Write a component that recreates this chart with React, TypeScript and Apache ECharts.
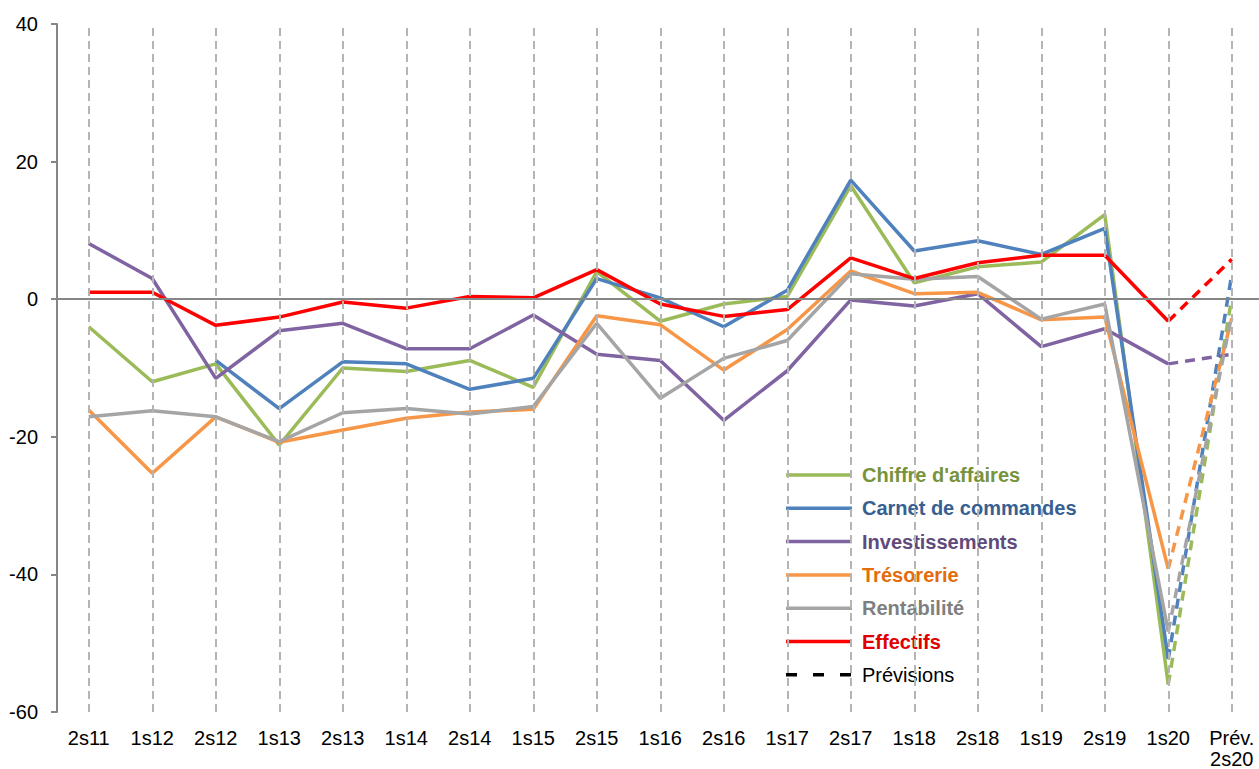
import React, { useEffect, useRef } from "react";
import * as echarts from "echarts";

const categories = [
  "2s11", "1s12", "2s12", "1s13", "2s13", "1s14", "2s14", "1s15", "2s15", "1s16",
  "2s16", "1s17", "2s17", "1s18", "2s18", "1s19", "2s19", "1s20", "Prév.\n2s20",
];

const chiffre = [-4.0, -12.0, -9.4, -21.2, -10.0, -10.5, -8.9, -12.8, 4.0, -3.2, -0.7, 0.4, 16.5, 2.4, 4.7, 5.4, 12.3, -56.0];
const carnet = [null, null, -8.9, -15.9, -9.1, -9.4, -13.1, -11.5, 3.0, 0.2, -4.0, 1.3, 17.3, 7.0, 8.5, 6.5, 10.3, -52.3];
const investissements = [8.1, 3.0, -11.5, -4.6, -3.5, -7.2, -7.2, -2.3, -8.0, -8.9, -17.6, -10.4, -0.1, -1.0, 0.8, -6.9, -4.3, -9.4];
const tresorerie = [-16.1, -25.3, -17.1, -20.8, -19.0, -17.3, -16.4, -16.0, -2.4, -3.7, -10.3, -4.4, 4.1, 0.8, 1.0, -3.0, -2.6, -39.2];
const rentabilite = [-17.1, -16.2, -17.1, -20.7, -16.5, -15.9, -16.7, -15.6, -3.5, -14.4, -8.6, -6.0, 3.7, 2.9, 3.3, -2.9, -0.7, -48.3];
const effectifs = [1.0, 1.0, -3.8, -2.6, -0.4, -1.3, 0.4, 0.2, 4.3, -0.7, -2.5, -1.5, 6.0, 3.0, 5.3, 6.4, 6.4, -3.2];

// forecasts for "Prév. 2s20"
const previsions = {
  chiffre: 0.2,
  carnet: 3.6,
  investissements: -8.0,
  tresorerie: -2.8,
  rentabilite: -2.3,
  effectifs: 5.8,
};

const yTicks = { min: -60, max: 40, interval: 20 };

const FONT = "'Liberation Sans', Arial, sans-serif";

export default function App() {
  const ref = useRef<HTMLDivElement>(null);

  useEffect(() => {
    if (!ref.current) return;
    const chart = echarts.init(ref.current, null, { renderer: "svg" });

    const defs = [
      { name: "Chiffre d'affaires", data: chiffre, prev: previsions.chiffre, color: "#9BBB59", text: "#77933C" },
      { name: "Carnet de commandes", data: carnet, prev: previsions.carnet, color: "#4F81BD", text: "#376092" },
      { name: "Investissements", data: investissements, prev: previsions.investissements, color: "#8064A2", text: "#604A7B" },
      { name: "Trésorerie", data: tresorerie, prev: previsions.tresorerie, color: "#F79646", text: "#E46C0A" },
      { name: "Rentabilité", data: rentabilite, prev: previsions.rentabilite, color: "#A5A5A5", text: "#7F7F7F" },
      { name: "Effectifs", data: effectifs, prev: previsions.effectifs, color: "#FF0000", text: "#E00000" },
    ];

    const last = categories.length - 1;
    const LW = 3.5;

    const series: any[] = [];
    series.push({
      name: "_grid",
      type: "line",
      data: [],
      silent: true,
      markLine: {
        silent: true,
        symbol: ["none", "none"],
        label: { show: false },
        emphasis: { disabled: true },
        data: [
          ...categories.map((c) => ({
            xAxis: c,
            lineStyle: { color: "#B4B4B4", type: [8, 5], width: 2 },
          })),
          { yAxis: 0, lineStyle: { color: "#868686", type: "solid", width: 2 } },
        ],
      },
    });

    defs.forEach((d) => {
      const fc: (number | null)[] = categories.map(() => null);
      fc[last - 1] = d.data[d.data.length - 1] as number;
      fc[last] = d.prev;
      series.push({
        name: d.name + " (prév.)",
        type: "line",
        data: fc,
        symbol: "none",
        silent: true,
        lineStyle: { color: d.color, width: LW, type: [10, 7] },
        itemStyle: { color: d.color },
        emphasis: { disabled: true },
        z: 3,
      });
    });

    defs.forEach((d) => {
      series.push({
        name: d.name,
        type: "line",
        data: d.data,
        symbol: "none",
        silent: true,
        connectNulls: false,
        lineStyle: { color: d.color, width: LW },
        itemStyle: { color: d.color },
        emphasis: { disabled: true },
        z: 4,
      });
    });

    const legendX = 786;
    const legendTop = 475;
    const rowH = 33.3;
    const legendEls: any[] = [];
    defs.forEach((d, i) => {
      const y = legendTop + i * rowH;
      legendEls.push({
        type: "line",
        shape: { x1: legendX, y1: y, x2: legendX + 66, y2: y },
        style: { stroke: d.color, lineWidth: 3.5 },
        silent: true,
      });
      legendEls.push({
        type: "text",
        x: legendX + 76,
        y,
        style: {
          text: d.name,
          fill: d.text,
          font: `bold 20px ${FONT}`,
          verticalAlign: "middle",
          align: "left",
        },
        silent: true,
      });
    });
    {
      const y = legendTop + defs.length * rowH;
      legendEls.push({
        type: "line",
        shape: { x1: legendX, y1: y, x2: legendX + 66, y2: y },
        style: { stroke: "#000000", lineWidth: 3.5, lineDash: [11, 16] },
        silent: true,
      });
      legendEls.push({
        type: "text",
        x: legendX + 76,
        y,
        style: {
          text: "Prévisions",
          fill: "#000000",
          font: `20px ${FONT}`,
          verticalAlign: "middle",
          align: "left",
        },
        silent: true,
      });
    }

    chart.setOption({
      animation: false,
      textStyle: { fontFamily: FONT },
      grid: {
        left: 57,
        top: 24,
        width: 1206.5,
        height: 688,
        containLabel: false,
        outerBoundsMode: "none",
      },
      xAxis: {
        type: "category",
        data: categories,
        boundaryGap: true,
        position: "bottom",
        axisLine: { show: false, onZero: false },
        axisTick: { show: false },
        splitLine: { show: false },
        axisLabel: {
          color: "#000000",
          fontSize: 20,
          fontFamily: FONT,
          margin: 15,
          lineHeight: 21,
          interval: 0,
        },
      },
      yAxis: {
        type: "value",
        min: yTicks.min,
        max: yTicks.max,
        interval: yTicks.interval,
        axisLine: { show: true, lineStyle: { color: "#868686", width: 2 } },
        axisTick: { show: true, length: 6, lineStyle: { color: "#868686", width: 2 } },
        splitLine: { show: false },
        axisLabel: { color: "#000000", fontSize: 20, fontFamily: FONT, margin: 19 },
      },
      graphic: { elements: legendEls },
      series,
    });

    return () => chart.dispose();
  }, []);

  return (
    <div
      ref={ref}
      style={{ position: "fixed", left: 0, top: 0, width: 1259, height: 769, background: "#ffffff" }}
    />
  );
}
